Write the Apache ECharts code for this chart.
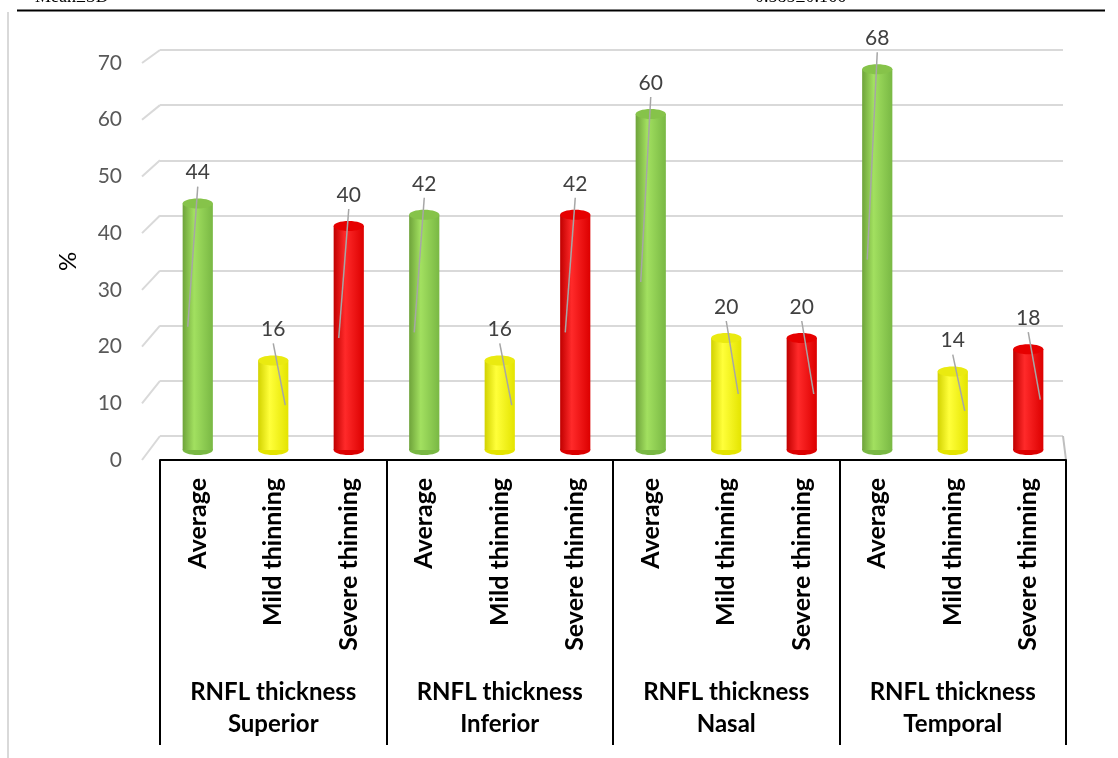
<!DOCTYPE html>
<html>
<head>
<meta charset="utf-8">
<style>
  html, body { margin: 0; padding: 0; background: #fff; }
  #main { width: 1118px; height: 758px; }
</style>
<script src="https://cdn.jsdelivr.net/npm/echarts@6/dist/echarts.min.js"></script>
</head>
<body>
<div id="main"></div>
<script>
// groups along the bottom and the three levels inside each group
const groups = ['RNFL thickness\nSuperior', 'RNFL thickness\nInferior', 'RNFL thickness\nNasal', 'RNFL thickness\nTemporal'];
const levels = ['Average', 'Mild thinning', 'Severe thinning'];
// percent per bar, in group order
const values = [44, 16, 40, 42, 16, 42, 60, 20, 20, 68, 14, 18];
const yTicks = [0, 10, 20, 30, 40, 50, 60, 70];

const FONT = 'Lato, "Open Sans", sans-serif';
const categories = [];
groups.forEach(function () { levels.forEach(function (l) { categories.push(l); }); });

// colours of each level: [left edge, highlight, right edge, cap]
const levelColors = [
  ['#6ea33a', '#a2e060', '#79b844', '#86c34a'],
  ['#d2d200', '#ffff3a', '#e4e400', '#eaea10'],
  ['#c00000', '#ff2a2a', '#dc0000', '#e60000']
];

const yMax = yTicks[yTicks.length - 1];

function renderCylinder(params, api) {
  const i = api.value(0);
  const v = api.value(1);
  const top = api.coord([i, v]);
  const base = api.coord([i, 0]);
  const mid = api.coord([i, v / 2]);
  const w = api.size([1, 0])[0] * 0.4;
  const rx = w / 2, ry = 5;
  const c = levelColors[i % 3];
  const grad = new echarts.graphic.LinearGradient(0, 0, 1, 0, [
    { offset: 0, color: c[0] },
    { offset: 0.38, color: c[1] },
    { offset: 1, color: c[2] }
  ]);
  const dx = v > 30 ? -10 : 12;
  return {
    type: 'group',
    children: [
      { type: 'ellipse', shape: { cx: base[0], cy: base[1], rx: rx, ry: ry }, style: { fill: c[2] } },
      { type: 'rect', shape: { x: base[0] - rx, y: top[1], width: w, height: base[1] - top[1] }, style: { fill: grad } },
      { type: 'ellipse', shape: { cx: top[0], cy: top[1], rx: rx, ry: ry }, style: { fill: c[3] } },
      { type: 'line', shape: { x1: top[0], y1: top[1] - 17, x2: top[0] + dx, y2: mid[1] }, style: { stroke: '#a6a6a6', lineWidth: 1.5 } },
      { type: 'text', x: top[0], y: top[1] - 31, style: { text: String(v), fill: '#404040', font: '21px ' + FONT, align: 'center', verticalAlign: 'middle' } }
    ]
  };
}

const chart = echarts.init(document.getElementById('main'));

chart.setOption({
  backgroundColor: '#fff',
  animation: false,
  grid: [
    { left: 160, right: 52, top: 58, bottom: 308 },   // bars
    { left: 160, right: 55, top: 50, bottom: 322 },   // back wall
    { left: 148, right: 52, top: 63, bottom: 298 }    // front value labels
  ],
  xAxis: [
    {
      type: 'category', gridIndex: 0, data: categories,
      axisLine: { show: false }, axisTick: { show: false },
      axisLabel: { interval: 0, rotate: 90, margin: 28, color: '#000', fontSize: 25, fontWeight: 'bold', fontFamily: FONT }
    },
    {
      type: 'category', gridIndex: 0, data: groups, position: 'bottom', offset: 10,
      axisLine: { show: true, lineStyle: { color: '#000', width: 2 } },
      axisTick: { show: true, interval: 0, length: 285, lineStyle: { color: '#000', width: 2 } },
      axisLabel: { interval: 0, margin: 216, color: '#000', fontSize: 24, fontWeight: 'bold', fontFamily: FONT, lineHeight: 32 }
    },
    { type: 'value', gridIndex: 1, min: 0, max: 1, show: false },
    { type: 'value', gridIndex: 2, min: 0, max: 1, show: false }
  ],
  yAxis: [
    { type: 'value', gridIndex: 0, min: 0, max: yMax, interval: 10, show: false },
    {
      type: 'value', gridIndex: 1, min: 0, max: yMax, interval: 10,
      axisLine: { show: false }, axisTick: { show: false }, axisLabel: { show: false },
      splitLine: { show: true, lineStyle: { color: '#d9d9d9', width: 2 } }
    },
    {
      type: 'value', gridIndex: 2, min: 0, max: yMax, interval: 10,
      axisLine: { show: false }, axisTick: { show: false }, splitLine: { show: false },
      axisLabel: { margin: 26, color: '#595959', fontSize: 21, fontFamily: FONT },
      name: '%', nameLocation: 'middle', nameGap: 68,
      nameTextStyle: { color: '#000', fontSize: 24, fontFamily: FONT }
    }
  ],
  series: [{
    type: 'custom',
    xAxisIndex: 0, yAxisIndex: 0,
    renderItem: renderCylinder,
    data: values.map(function (v, i) { return [i, v]; }),
    encode: { x: 0, y: 1 }
  }]
});

// perspective edges, taken from the back and front value scales
const edges = [];
yTicks.forEach(function (t) {
  const back = chart.convertToPixel({ gridIndex: 1 }, [0, t]);
  const front = chart.convertToPixel({ gridIndex: 2 }, [0, t]);
  edges.push({ type: 'line', shape: { x1: front[0] - 6, y1: front[1], x2: back[0], y2: back[1] }, style: { stroke: '#d9d9d9', lineWidth: 2 } });
});
const backRight = chart.convertToPixel({ gridIndex: 1 }, [1, 0]);
const frontRight = chart.convertToPixel({ gridIndex: 2 }, [1, 0]);
edges.push({ type: 'line', shape: { x1: backRight[0], y1: backRight[1], x2: frontRight[0], y2: frontRight[1] }, style: { stroke: '#bfbfbf', lineWidth: 2 } });

chart.setOption({
  graphic: edges.concat([
    { type: 'line', shape: { x1: 8, y1: 12, x2: 8, y2: 758 }, style: { stroke: '#d9d9d9', lineWidth: 2 } },
    { type: 'line', shape: { x1: 17, y1: 10.5, x2: 1105, y2: 10.5 }, style: { stroke: '#000', lineWidth: 2 } },
    { type: 'text', left: 35, top: -12, style: { text: 'Mean±SD', font: '18px "Liberation Serif", serif', fill: '#000' } },
    { type: 'text', left: 755, top: -12, style: { text: '0.585±0.166', font: '18px "Liberation Serif", serif', fill: '#000' } }
  ])
});
</script>
</body>
</html>
